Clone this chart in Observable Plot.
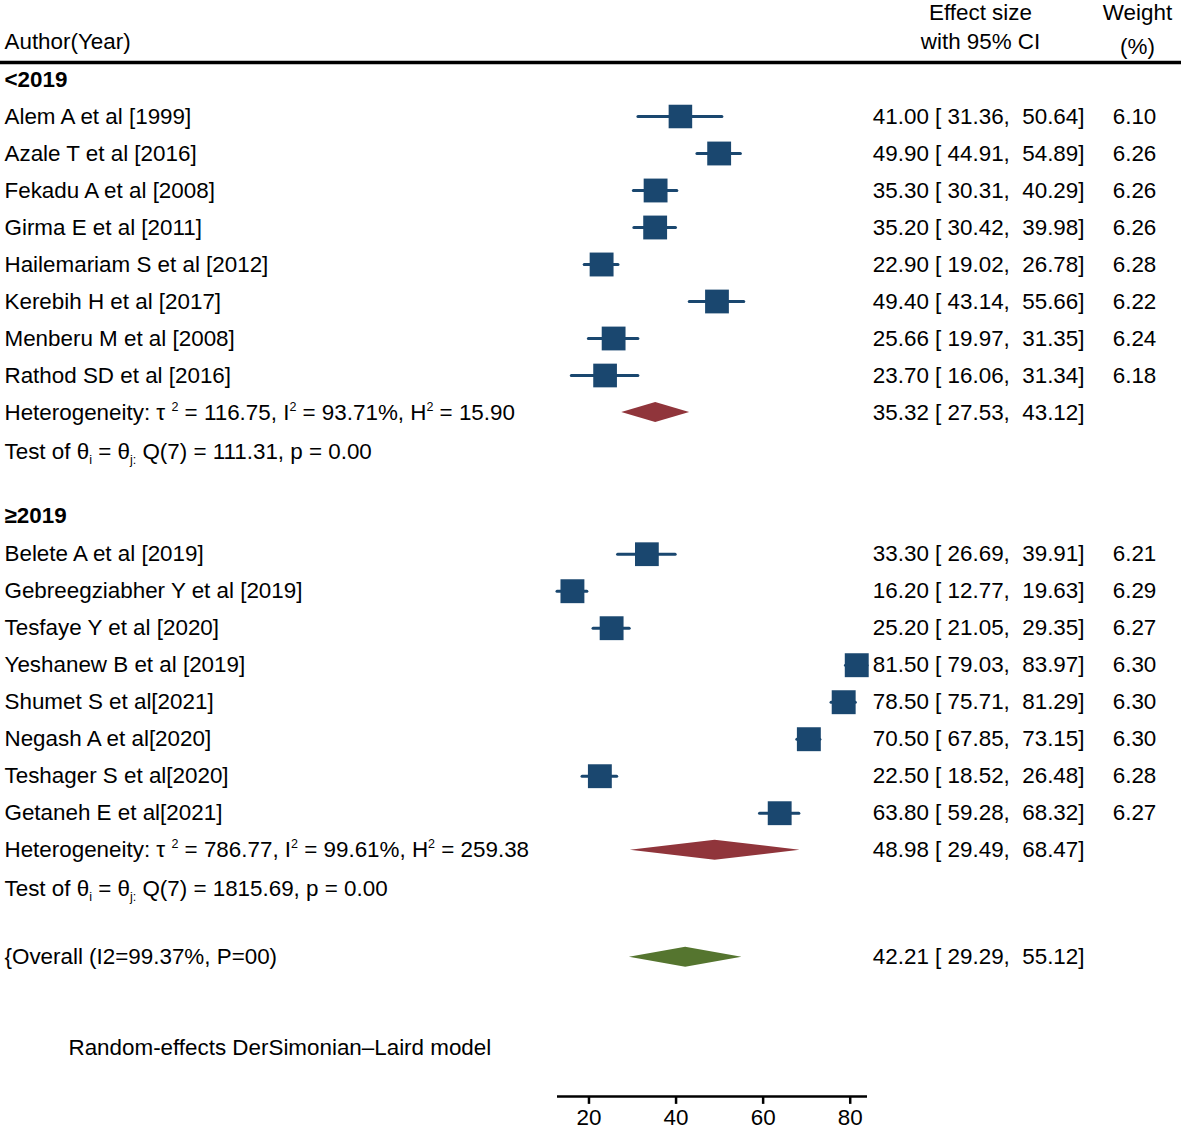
<!DOCTYPE html>
<html>
<head>
<meta charset="utf-8">
<script src="https://cdn.jsdelivr.net/npm/d3@7"></script>
<script src="https://cdn.jsdelivr.net/npm/@observablehq/plot@0.6"></script>
<style>
  html, body { margin: 0; padding: 0; background: #fff; }
  #chart svg { display: block; }
</style>
</head>
<body>
<div id="chart"></div>
<script>
// ---------- data ----------
const groupLabels = ["<2019", "\u22652019"];

const studies1 = ["Alem A et al [1999]", "Azale T et al [2016]", "Fekadu A et al [2008]", "Girma E et al [2011]",
  "Hailemariam S et al [2012]", "Kerebih H et al [2017]", "Menberu M et al [2008]", "Rathod SD et al [2016]"];
const es1 = [41.00, 49.90, 35.30, 35.20, 22.90, 49.40, 25.66, 23.70];
const lo1 = [31.36, 44.91, 30.31, 30.42, 19.02, 43.14, 19.97, 16.06];
const hi1 = [50.64, 54.89, 40.29, 39.98, 26.78, 55.66, 31.35, 31.34];
const wt1 = [6.10, 6.26, 6.26, 6.26, 6.28, 6.22, 6.24, 6.18];

const studies2 = ["Belete A et al [2019]", "Gebreegziabher Y et al [2019]", "Tesfaye Y et al [2020]", "Yeshanew B et al [2019]",
  "Shumet S et al[2021]", "Negash A et al[2020]", "Teshager S et al[2020]", "Getaneh E et al[2021]"];
const es2 = [33.30, 16.20, 25.20, 81.50, 78.50, 70.50, 22.50, 63.80];
const lo2 = [26.69, 12.77, 21.05, 79.03, 75.71, 67.85, 18.52, 59.28];
const hi2 = [39.91, 19.63, 29.35, 83.97, 81.29, 73.15, 26.48, 68.32];
const wt2 = [6.21, 6.29, 6.27, 6.30, 6.30, 6.30, 6.28, 6.27];

const pooledES = [35.32, 48.98];
const pooledLo = [27.53, 29.49];
const pooledHi = [43.12, 68.47];
const hetTexts = [
  "Heterogeneity: \u03c4\u00a0^{2} = 116.75, I^{2} = 93.71%, H^{2} = 15.90",
  "Heterogeneity: \u03c4\u00a0^{2} = 786.77, I^{2} = 99.61%, H^{2} = 259.38"
];
const testTexts = [
  "Test of \u03b8_{i} = \u03b8_{j:} Q(7) = 111.31, p = 0.00",
  "Test of \u03b8_{i} = \u03b8_{j:} Q(7) = 1815.69, p = 0.00"
];

const overallLabel = "{Overall (I2=99.37%, P=00)";
const overallES = 42.21, overallLo = 29.29, overallHi = 55.12;
const noteText = "Random-effects DerSimonian\u2013Laird model";
const xTicks = [20, 40, 60, 80];

// ---------- layout (row units) ----------
const groupStart = [0, 11.8];       // row of each group header
const studyOffset = [1, 1.03];
const diamondHalf = 0.27;

const fmt = v => v.toFixed(2);
const ciText = (e, l, h) => `${fmt(e)} [ ${fmt(l)},\u00a0\u00a0${fmt(h)}]`;

const groups = [
  {studies: studies1, es: es1, lo: lo1, hi: hi1, wt: wt1},
  {studies: studies2, es: es2, lo: lo2, hi: hi2, wt: wt2}
];

const studyRows = [];
const headerRows = [];
const hetRows = [];
const testRows = [];
const diamondPts = [];
groups.forEach((g, gi) => {
  const r0 = groupStart[gi];
  headerRows.push({label: groupLabels[gi], row: r0});
  g.studies.forEach((s, i) => {
    studyRows.push({label: s, es: g.es[i], lo: g.lo[i], hi: g.hi[i], wt: g.wt[i],
      row: r0 + studyOffset[gi] + i, ci: ciText(g.es[i], g.lo[i], g.hi[i]), w: fmt(g.wt[i])});
  });
  const hr = r0 + studyOffset[gi] + g.studies.length;
  hetRows.push({label: hetTexts[gi], row: hr, ci: ciText(pooledES[gi], pooledLo[gi], pooledHi[gi])});
  testRows.push({label: testTexts[gi], row: hr + 1.05});
  diamondPts.push(
    {id: "g" + gi, x: pooledLo[gi], y1: hr, y2: hr},
    {id: "g" + gi, x: pooledES[gi], y1: hr - diamondHalf, y2: hr + diamondHalf},
    {id: "g" + gi, x: pooledHi[gi], y1: hr, y2: hr}
  );
});
const overallRow = 23.72;
const overallPts = [
  {x: overallLo, y1: overallRow, y2: overallRow},
  {x: overallES, y1: overallRow - diamondHalf, y2: overallRow + diamondHalf},
  {x: overallHi, y1: overallRow, y2: overallRow}
];
const overallRows = [{label: overallLabel, row: overallRow, ci: ciText(overallES, overallLo, overallHi)}];
const noteRows = [{label: noteText, row: 26.16}];
const axisRow = 27.486;
const tickLen = 0.2;   // in row units (~7px)
const tickRows = xTicks.map(v => ({x: v, y1: axisRow, y2: axisRow + tickLen}));

const xMin = d3.min(studyRows, d => d.lo);
const xMax = d3.max(studyRows, d => d.hi);

// rich text: ^{..} superscript, _{..} subscript
function richRender(index, scales, values, dims, context, next) {
  const g = next(index, scales, values, dims, context);
  g.querySelectorAll("text").forEach(t => {
    const s = t.textContent;
    if (!/[\^_]\{/.test(s)) return;
    t.textContent = "";
    let shift = 0;
    for (const p of s.split(/([\^_]\{[^}]*\})/)) {
      if (!p) continue;
      const ts = document.createElementNS("http://www.w3.org/2000/svg", "tspan");
      let target = 0, txt = p, small = false;
      if (p.startsWith("^{")) { target = -9; txt = p.slice(2, -1); small = true; }
      else if (p.startsWith("_{")) { target = 5; txt = p.slice(2, -1); small = true; }
      ts.setAttribute("dy", target - shift);
      shift = target;
      if (small) ts.setAttribute("font-size", 12.5);
      ts.textContent = txt;
      t.appendChild(ts);
    }
  });
  return g;
}

const navy = "#1a476f", maroon = "#90353b", green = "#55752f";
const FS = 22.4;

const plot = Plot.plot({
  width: 1181,
  height: 1132,
  marginLeft: 0, marginRight: 0, marginTop: 0, marginBottom: 36,
  style: {fontFamily: "'Liberation Sans', Arial, Helvetica, sans-serif", fontSize: FS + "px", color: "#000", background: "#fff"},
  x: {domain: [xMin, xMax], range: [557, 867], label: null},
  y: {domain: [0, 1], range: [79, 116], axis: null},
  r: {type: "sqrt", domain: [0, d3.max(studyRows, d => d.wt)], range: [0, 13.5]},
  marks: [
    // header
    Plot.text(["Author(Year)"], {frameAnchor: "left", dx: 4, y: () => -1.03, textAnchor: "start", fontSize: FS}),
    Plot.text(["Effect size"], {frameAnchor: "left", dx: 980, y: () => -1.81, textAnchor: "middle", fontSize: FS}),
    Plot.text(["with 95% CI"], {frameAnchor: "left", dx: 980, y: () => -1.03, textAnchor: "middle", fontSize: FS}),
    Plot.text(["Weight"], {frameAnchor: "left", dx: 1137, y: () => -1.81, textAnchor: "middle", fontSize: FS}),
    Plot.text(["(%)"], {frameAnchor: "left", dx: 1137, y: () => -0.89, textAnchor: "middle", fontSize: FS}),
    Plot.ruleY([-0.46], {stroke: "#000", strokeWidth: 3.5}),
    // group headers
    Plot.text(headerRows, {frameAnchor: "left", dx: 4, y: "row", text: "label", textAnchor: "start", fontWeight: "bold", fontSize: FS}),
    // study CI and markers
    Plot.ruleY(studyRows, {y: "row", x1: "lo", x2: "hi", stroke: navy, strokeWidth: 3, strokeLinecap: "round"}),
    Plot.dot(studyRows, {x: "es", y: "row", r: "wt", symbol: "square", fill: navy}),
    // pooled diamonds
    Plot.areaY(diamondPts, {x: "x", y1: "y1", y2: "y2", z: "id", fill: maroon, curve: "linear"}),
    Plot.areaY(overallPts, {x: "x", y1: "y1", y2: "y2", fill: green, curve: "linear"}),
    // left labels
    Plot.text(studyRows, {frameAnchor: "left", dx: 4, y: "row", text: "label", textAnchor: "start", fontSize: FS}),
    Plot.text(hetRows, {frameAnchor: "left", dx: 4, y: "row", text: "label", textAnchor: "start", fontSize: FS, render: richRender}),
    Plot.text(testRows, {frameAnchor: "left", dx: 4, y: "row", text: "label", textAnchor: "start", fontSize: FS, render: richRender}),
    Plot.text(overallRows, {frameAnchor: "left", dx: 4, y: "row", text: "label", textAnchor: "start", fontSize: FS}),
    Plot.text(noteRows, {frameAnchor: "left", dx: 68, y: "row", text: "label", textAnchor: "start", fontSize: FS}),
    // right columns
    Plot.text(studyRows, {frameAnchor: "left", dx: 1084, y: "row", text: "ci", textAnchor: "end", fontSize: FS}),
    Plot.text(hetRows, {frameAnchor: "left", dx: 1084, y: "row", text: "ci", textAnchor: "end", fontSize: FS}),
    Plot.text(overallRows, {frameAnchor: "left", dx: 1084, y: "row", text: "ci", textAnchor: "end", fontSize: FS}),
    Plot.text(studyRows, {frameAnchor: "left", dx: 1134, y: "row", text: "w", textAnchor: "middle", fontSize: FS}),
    // axis
    Plot.ruleY([axisRow], {x1: xMin, x2: xMax, stroke: "#000", strokeWidth: 2.5}),
    Plot.link(tickRows, {x1: "x", x2: "x", y1: "y1", y2: "y2", stroke: "#000", strokeWidth: 2.5}),
    Plot.axisX({ticks: xTicks, tickSize: 0, tickPadding: 13, fontSize: FS, label: null})
  ]
});
document.getElementById("chart").appendChild(plot);
</script>
</body>
</html>
